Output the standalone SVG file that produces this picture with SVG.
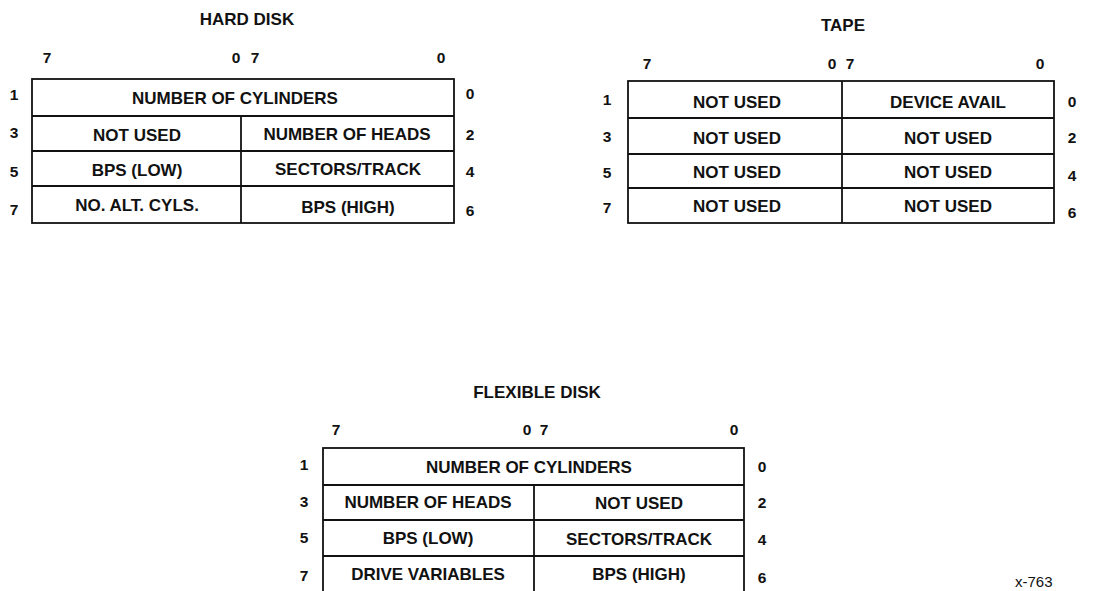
<svg xmlns="http://www.w3.org/2000/svg" width="1116" height="591" viewBox="0 0 1116 591">
<style>
.box{fill:none;stroke:#111;stroke-width:1.8}
.ln{stroke:#111;stroke-width:1.8}
.c{font-family:"Liberation Sans",Arial,sans-serif;font-weight:bold;font-size:17px;fill:#111;text-anchor:middle}
.t{font-family:"Liberation Sans",Arial,sans-serif;font-weight:bold;font-size:17px;fill:#111;text-anchor:middle}
.d{font-family:"Liberation Sans",Arial,sans-serif;font-weight:bold;font-size:15.5px;fill:#111;text-anchor:middle}
.n{font-family:"Liberation Sans",Arial,sans-serif;font-size:15px;fill:#111}
</style>
<rect width="1116" height="591" fill="#fff"/>
<g id="hard-disk">
<text class="t" x="247" y="25">HARD DISK</text>
<text class="d" x="47" y="63">7</text><text class="d" x="236" y="63">0</text><text class="d" x="255" y="63">7</text><text class="d" x="441" y="63">0</text>
<rect class="box" x="32" y="79" width="422" height="144"/>
<line class="ln" x1="32" y1="116" x2="454" y2="116"/>
<line class="ln" x1="32" y1="151" x2="454" y2="151"/>
<line class="ln" x1="32" y1="186" x2="454" y2="186"/>
<line class="ln" x1="241" y1="116" x2="241" y2="223"/>
<text class="c" x="235" y="104">NUMBER OF CYLINDERS</text>
<text class="c" x="137" y="141">NOT USED</text><text class="c" x="347" y="140">NUMBER OF HEADS</text>
<text class="c" x="137" y="176">BPS (LOW)</text><text class="c" x="348" y="175">SECTORS/TRACK</text>
<text class="c" x="137" y="211">NO. ALT. CYLS.</text><text class="c" x="348" y="213">BPS (HIGH)</text>
<text class="d" x="14" y="100">1</text><text class="d" x="14" y="138">3</text><text class="d" x="14" y="177">5</text><text class="d" x="14" y="215">7</text>
<text class="d" x="470" y="99">0</text><text class="d" x="470" y="140">2</text><text class="d" x="470" y="177">4</text><text class="d" x="470" y="216">6</text>
</g>
<g id="tape">
<text class="t" x="843" y="31">TAPE</text>
<text class="d" x="647" y="69">7</text><text class="d" x="832" y="69">0</text><text class="d" x="850" y="69">7</text><text class="d" x="1040" y="69">0</text>
<rect class="box" x="628" y="81" width="426" height="142"/>
<line class="ln" x1="628" y1="118" x2="1054" y2="118"/>
<line class="ln" x1="628" y1="154" x2="1054" y2="154"/>
<line class="ln" x1="628" y1="188" x2="1054" y2="188"/>
<line class="ln" x1="842" y1="81" x2="842" y2="223"/>
<text class="c" x="737" y="108">NOT USED</text><text class="c" x="948" y="108">DEVICE AVAIL</text>
<text class="c" x="737" y="144">NOT USED</text><text class="c" x="948" y="144">NOT USED</text>
<text class="c" x="737" y="178">NOT USED</text><text class="c" x="948" y="178">NOT USED</text>
<text class="c" x="737" y="212">NOT USED</text><text class="c" x="948" y="212">NOT USED</text>
<text class="d" x="607" y="105">1</text><text class="d" x="607" y="142">3</text><text class="d" x="607" y="178">5</text><text class="d" x="607" y="213">7</text>
<text class="d" x="1072" y="107">0</text><text class="d" x="1072" y="143">2</text><text class="d" x="1072" y="181">4</text><text class="d" x="1072" y="218">6</text>
</g>
<g id="flexible-disk">
<text class="t" x="537" y="398">FLEXIBLE DISK</text>
<text class="d" x="336" y="435">7</text><text class="d" x="527" y="435">0</text><text class="d" x="544" y="435">7</text><text class="d" x="734" y="435">0</text>
<rect class="box" x="323" y="448" width="421" height="146"/>
<line class="ln" x1="323" y1="485" x2="744" y2="485"/>
<line class="ln" x1="323" y1="520" x2="744" y2="520"/>
<line class="ln" x1="323" y1="556" x2="744" y2="556"/>
<line class="ln" x1="534" y1="485" x2="534" y2="594"/>
<text class="c" x="529" y="473">NUMBER OF CYLINDERS</text>
<text class="c" x="428" y="508">NUMBER OF HEADS</text><text class="c" x="639" y="509">NOT USED</text>
<text class="c" x="428" y="544">BPS (LOW)</text><text class="c" x="639" y="545">SECTORS/TRACK</text>
<text class="c" x="428" y="580">DRIVE VARIABLES</text><text class="c" x="639" y="580">BPS (HIGH)</text>
<text class="d" x="304" y="470">1</text><text class="d" x="304" y="507">3</text><text class="d" x="304" y="543">5</text><text class="d" x="304" y="581">7</text>
<text class="d" x="762" y="472">0</text><text class="d" x="762" y="508">2</text><text class="d" x="762" y="545">4</text><text class="d" x="762" y="583">6</text>
</g>
<text class="n" x="1015" y="587">x-763</text>
</svg>
